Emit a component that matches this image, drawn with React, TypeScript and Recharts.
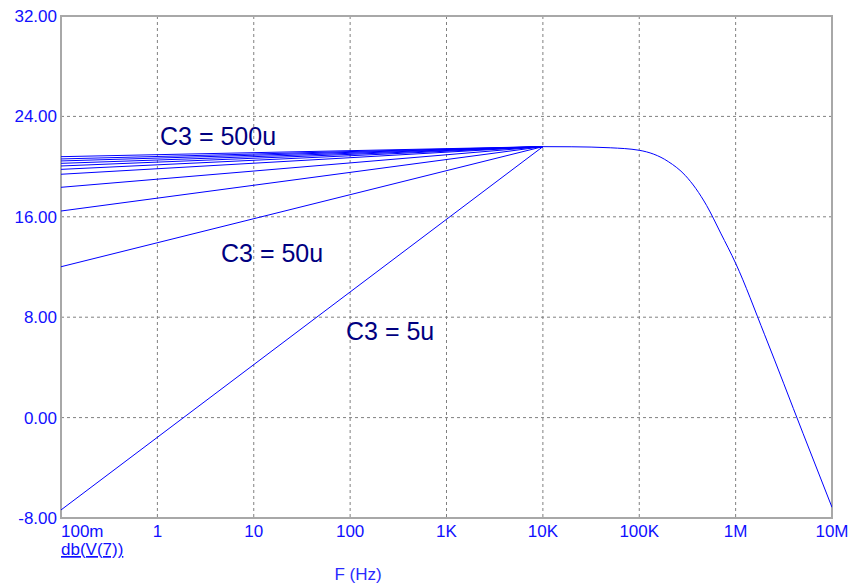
import { LineChart, Line, XAxis, YAxis, CartesianGrid, ReferenceArea } from 'recharts'

// frequency ticks (Hz) and their labels
const freqTicks = [0.1, 1, 10, 100, 1e3, 1e4, 1e5, 1e6, 1e7]
const freqLabels = ['100m', '1', '10', '100', '1K', '10K', '100K', '1M', '10M']
const dbTicks = [-8, 0, 8, 16, 24, 32]

// low-frequency part: each C3 step runs straight (on log f) from 100m to the 10K corner
const lowStartFreq = 0.1
const cornerFreq = 1e4
const cornerDb = 21.59
const lowStartDb = [-7.36, 12.02, 16.46, 18.35, 19.39, 19.78, 20.05, 20.26, 20.45, 20.61, 20.79]

// shared high-frequency roll-off
const rollFreq = [1e4, 2e4, 5e4, 1e5, 2e5, 3e5, 5e5, 7e5, 1e6, 2e6, 5e6, 1e7]
const rollDb = [21.59, 21.58, 21.5, 21.3, 20.4, 19.3, 16.9, 14.7, 12.3, 6.6, -1.25, -7.15]

const lowSeries = lowStartDb.map((db) => [
  { f: lowStartFreq, db },
  { f: cornerFreq, db: cornerDb },
])
const rollData = rollFreq.map((f, i) => ({ f, db: rollDb[i] }))

const tickBlue = '#1010ff'
const font = '"Liberation Sans", Arial, sans-serif'

const FreqTick = (props: any) => {
  const { x, y, payload, index } = props
  return (
    <text
      x={x}
      y={y}
      dy={19}
      textAnchor={index === 0 ? 'start' : 'middle'}
      fill={tickBlue}
      fontSize={17}
      fontFamily={font}
    >
      {freqLabels[freqTicks.indexOf(payload.value)]}
    </text>
  )
}

export default function App() {
  return (
    <div style={{ position: 'absolute', left: 0, top: 0, width: 853, height: 588, background: '#fff' }}>
      <LineChart width={853} height={588} margin={{ top: 16, right: 21, bottom: 40, left: 0 }}>
        <CartesianGrid stroke="#808080" strokeDasharray="3 3" />
        <XAxis
          dataKey="f"
          type="number"
          scale="log"
          domain={[0.1, 1e7]}
          ticks={freqTicks}
          allowDataOverflow
          height={30}
          axisLine={false}
          tickLine={false}
          tickSize={0}
          tickMargin={0}
          tick={<FreqTick />}
          interval={0}
        />
        <YAxis
          type="number"
          domain={[-8, 32]}
          ticks={dbTicks}
          width={61}
          axisLine={false}
          tickLine={false}
          tickSize={0}
          tickMargin={4}
          interval={0}
          tickFormatter={(v: number) => v.toFixed(2)}
          tick={{ fill: tickBlue, fontSize: 17, fontFamily: font }}
        />
        <ReferenceArea x1={0.1} x2={1e7} y1={-8} y2={32} fill="none" stroke="#a8a8a8" strokeWidth={2} />
        {lowSeries.map((d, i) => (
          <Line
            key={i}
            data={d}
            dataKey="db"
            type="linear"
            stroke="#0000ff"
            strokeWidth={1}
            dot={false}
            isAnimationActive={false}
          />
        ))}
        <Line
          data={rollData}
          dataKey="db"
          type="monotone"
          stroke="#0000ff"
          strokeWidth={1}
          dot={false}
          isAnimationActive={false}
        />
      </LineChart>
      <svg width={853} height={588} style={{ position: 'absolute', left: 0, top: 0, pointerEvents: 'none' }}>
        <g fontFamily={font} fill="#000080" fontSize={25}>
          <text x={160} y={145}>C3 = 500u</text>
          <text x={221} y={262}>C3 = 50u</text>
          <text x={346} y={340}>C3 = 5u</text>
        </g>
        <text x={61} y={555} fill={tickBlue} fontSize={17} fontFamily={font} textDecoration="underline">
          db(V(7))
        </text>
        <text x={358} y={580} fill="#2a2aff" fontSize={17} fontFamily={font} textAnchor="middle">
          F (Hz)
        </text>
      </svg>
    </div>
  )
}
